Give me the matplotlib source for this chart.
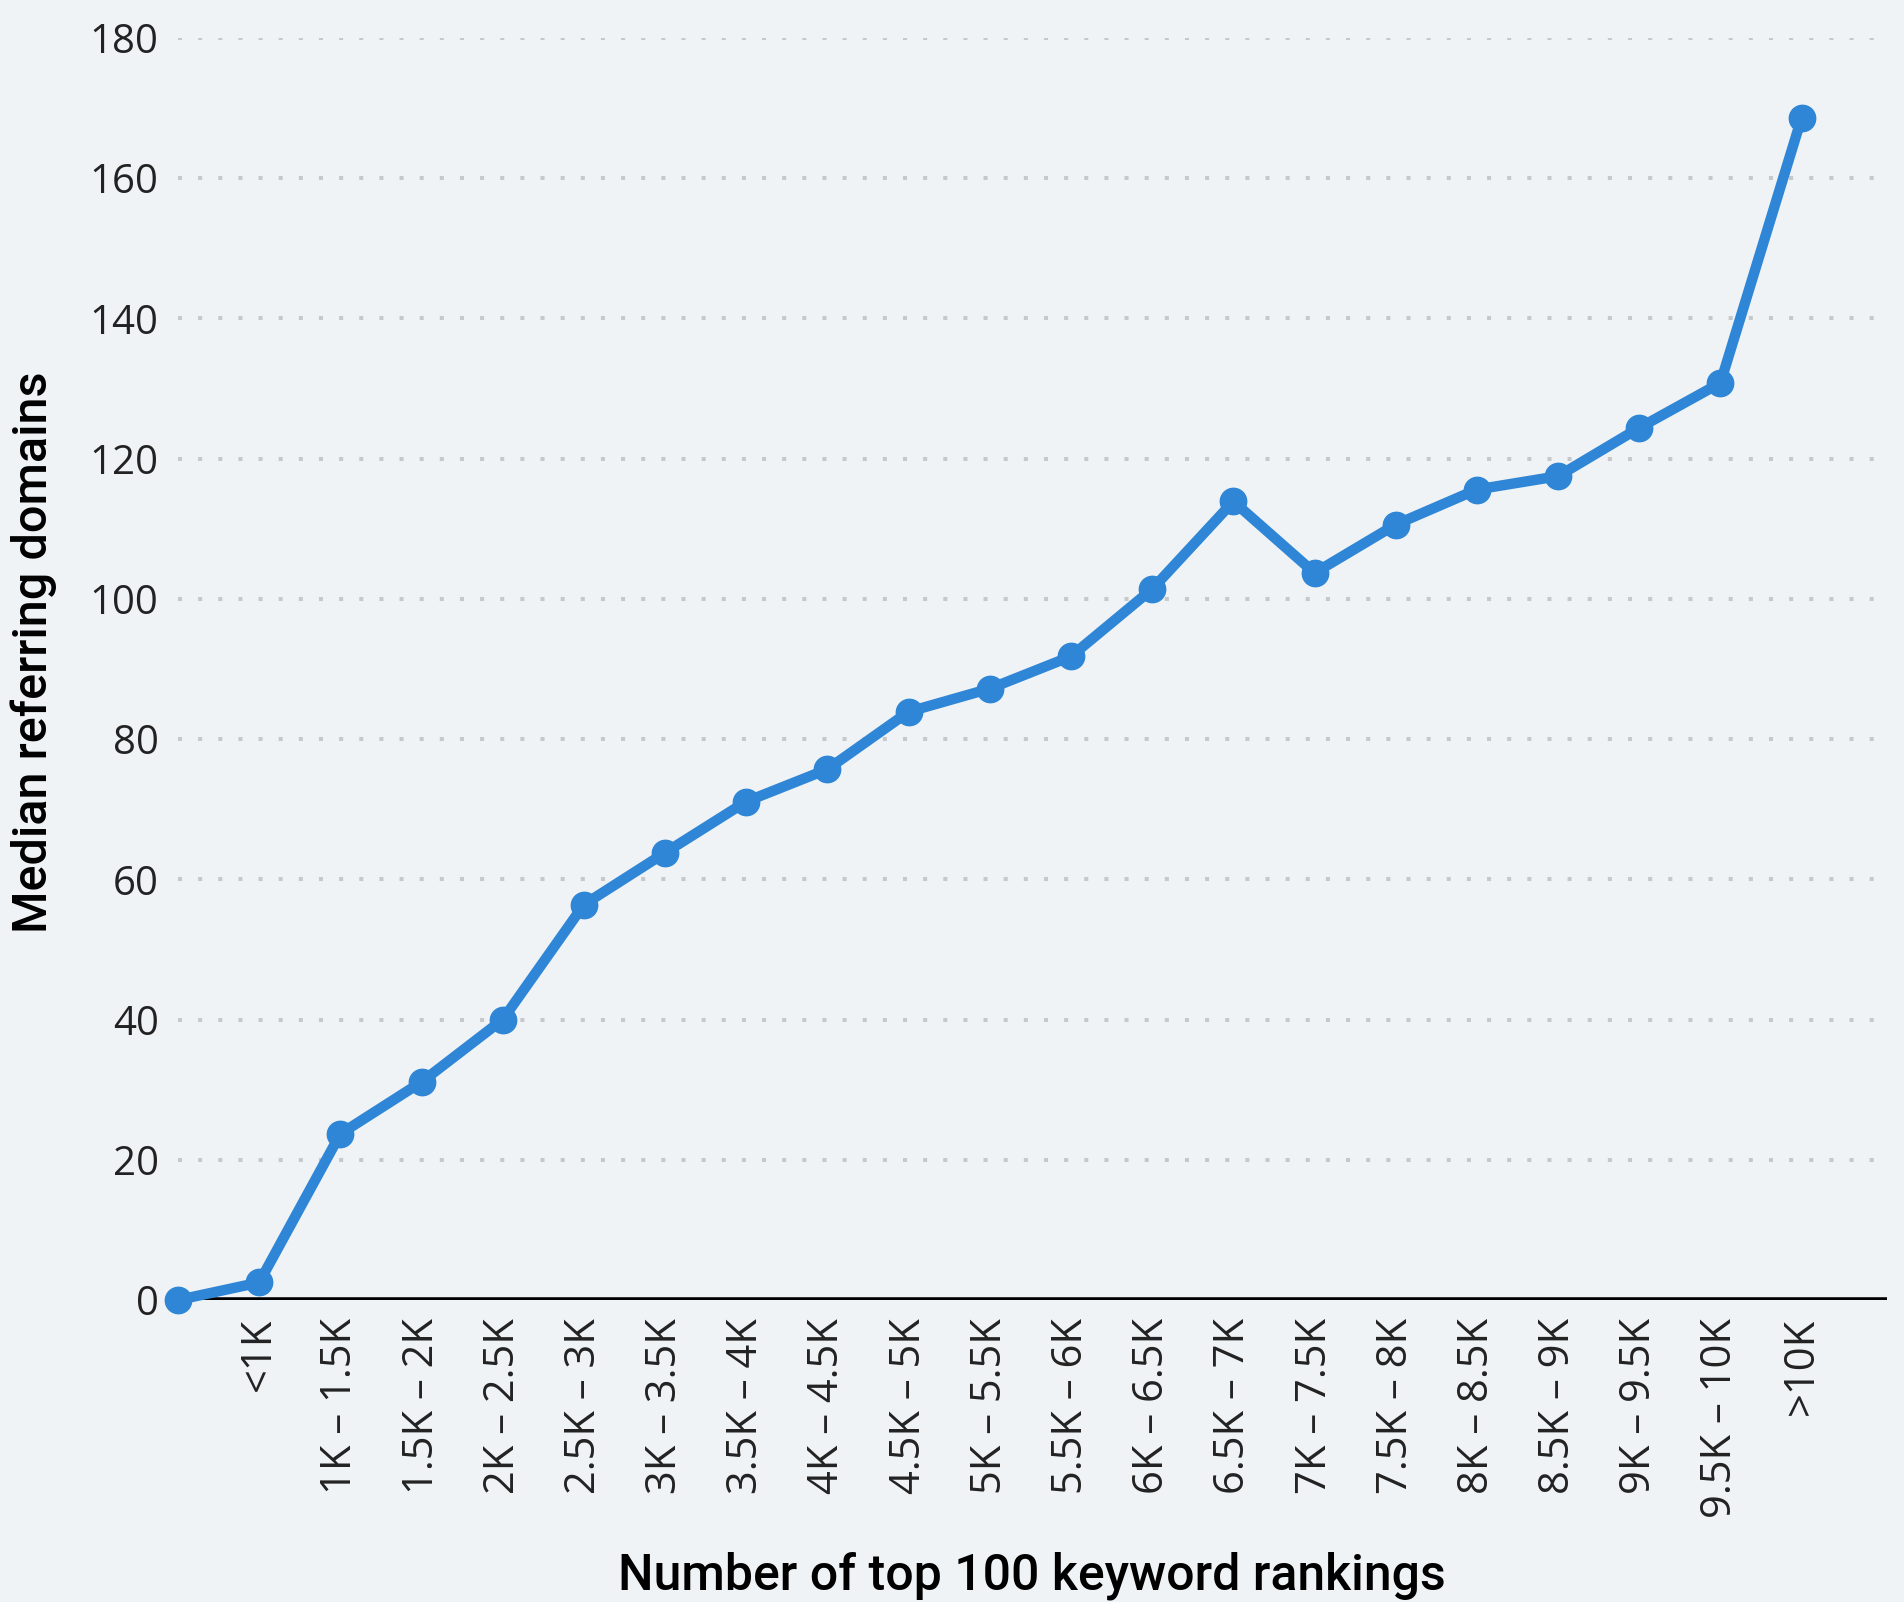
import matplotlib
matplotlib.use('Agg')
import matplotlib.pyplot as plt

plt.rcParams['font.family'] = ['Open Sans', 'DejaVu Sans']

# bins of top-100 keyword rankings (first point has no label)
categories = ['', '<1K', '1K – 1.5K', '1.5K – 2K', '2K – 2.5K', '2.5K – 3K',
              '3K – 3.5K', '3.5K – 4K', '4K – 4.5K', '4.5K – 5K', '5K – 5.5K',
              '5.5K – 6K', '6K – 6.5K', '6.5K – 7K', '7K – 7.5K', '7.5K – 8K',
              '8K – 8.5K', '8.5K – 9K', '9K – 9.5K', '9.5K – 10K', '>10K']
median_domains = [0, 2.5, 23.7, 31.1, 40, 56.4, 63.8, 71.1, 75.7, 83.9, 87.2,
                  91.8, 101.4, 113.9, 103.7, 110.6, 115.6, 117.5, 124.4, 130.8, 168.6]
y_ticks = [0, 20, 40, 60, 80, 100, 120, 140, 160, 180]

BG = '#eff3f5'
BLUE = '#2f86d6'
TITLE_FONT = ['Roboto', 'DejaVu Sans']

fig = plt.figure(figsize=(19.04, 16.02), dpi=100, facecolor=BG)
ax = fig.add_axes([0.0935, 0.1885, 0.8975, 0.7878])
ax.set_facecolor(BG)

x = list(range(len(median_domains)))
ax.plot(x, median_domains, color=BLUE, linewidth=7.5, marker='o', markersize=19,
        solid_joinstyle='round', clip_on=False, zorder=4)

ax.set_xlim(0, len(median_domains) - 1 + 1.05)
ax.set_ylim(0, 180)

for s in ax.spines.values():
    s.set_visible(False)
ax.axhline(0, color='black', linewidth=4, zorder=3)

ax.set_yticks(y_ticks)
ax.yaxis.grid(True, color='#c6c8ca', linewidth=2.9, linestyle=(0, (1, 4)))
ax.set_axisbelow(True)
ax.tick_params(axis='y', length=0, pad=14, labelsize=29, labelcolor='#222222')

ax.set_xticks(x)
ax.set_xticklabels(categories, rotation=90)
ax.tick_params(axis='x', length=0, pad=13, labelsize=30, labelcolor='#222222')

# axis titles placed in figure coordinates
fig.text(0.5417, 0.008, 'Number of top 100 keyword rankings', fontsize=36,
         family=TITLE_FONT, fontweight='medium', ha='center', va='baseline')
fig.text(0.0179, 0.593, 'Median referring domains', fontsize=35, rotation=90,
         family=TITLE_FONT, fontweight='medium', ha='center', va='center')

fig.savefig('out.png', dpi=100, facecolor=BG)
